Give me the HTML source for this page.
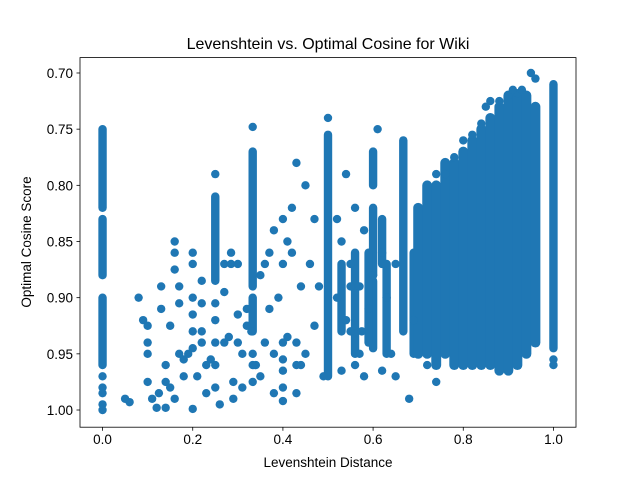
<!DOCTYPE html>
<html><head><meta charset="utf-8"><style>
body{margin:0;background:#fff;font-family:"Liberation Sans","DejaVu Sans",sans-serif;}
svg text{font-family:"Liberation Sans","DejaVu Sans",sans-serif;fill:#000;}
</style></head><body>
<svg id="chart" width="640" height="480" viewBox="0 0 640 480">
<rect width="640" height="480" fill="#fff"/>
<g id="marks"></g>
<rect x="80" y="57.6" width="496" height="369.6" fill="none" stroke="#000" stroke-width="0.8"/>
<g id="axes"></g>
<text x="328" y="49" text-anchor="middle" font-size="16">Levenshtein vs. Optimal Cosine for Wiki</text>
<text x="328" y="467" text-anchor="middle" font-size="13.5">Levenshtein Distance</text>
<text x="31" y="242" text-anchor="middle" font-size="13.5" transform="rotate(-90 31 242)">Optimal Cosine Score</text>
</svg>
<script>
const xTicks=[0.0,0.2,0.4,0.6,0.8,1.0];
const xTickLabels=["0.0","0.2","0.4","0.6","0.8","1.0"];
const yTicks=[0.70,0.75,0.80,0.85,0.90,0.95,1.00];
const yTickLabels=["0.70","0.75","0.80","0.85","0.90","0.95","1.00"];
// dense columns: x, top y, bottom y
const colX=[0,0,0,0.25,0.333,0.333,0.5,0.6,0.6,0.6,0.667,1.0,0.53,0.56,0.59,0.63,0.69,0.62,0.70,0.72,0.74,0.76,0.78,0.80,0.82,0.84,0.86,0.88,0.90,0.92,0.94,0.96];
const colTop=[0.75,0.83,0.90,0.81,0.77,0.90,0.755,0.77,0.82,0.885,0.76,0.71,0.87,0.86,0.86,0.87,0.86,0.83,0.82,0.80,0.80,0.78,0.78,0.77,0.76,0.75,0.74,0.73,0.72,0.72,0.72,0.73];
const colBottom=[0.82,0.88,0.96,0.885,0.89,0.93,0.97,0.80,0.88,0.945,0.93,0.945,0.93,0.95,0.94,0.95,0.95,0.87,0.95,0.95,0.96,0.95,0.96,0.96,0.96,0.96,0.96,0.965,0.965,0.96,0.95,0.94];
// individual points
const ptX=[0,0,0,0,0,1.0,1.0,0.5,0.05,0.06,0.08,0.09,0.1,0.1,0.1,0.1,0.11,0.125,0.13,0.13,0.14,0.14,0.15,0.15,0.16,0.16,0.16,0.17,0.17,0.17,0.18,0.19,0.2,0.2,0.2,0.2,0.2,0.2,0.21,0.22,0.22,0.22,0.23,0.23,0.24,0.25,0.25,0.25,0.25,0.25,0.25,0.27,0.27,0.27,0.28,0.285,0.285,0.29,0.3,0.3,0.31,0.32,0.32,0.333,0.35,0.36,0.37,0.37,0.38,0.38,0.39,0.4,0.4,0.4,0.41,0.41,0.42,0.42,0.43,0.43,0.44,0.44,0.45,0.45,0.46,0.47,0.47,0.48,0.49,0.52,0.53,0.54,0.55,0.55,0.56,0.57,0.57,0.58,0.59,0.61,0.62,0.63,0.64,0.65,0.68,0.69,0.72,0.74,0.35,0.30,0.22,0.18,0.2,0.26,0.12,0.14,0.16,0.38,0.4,0.31,0.33,0.34,0.36,0.29,0.56,0.58,0.53,0.62,0.65,0.52,0.54,0.55,0.575,0.6,0.333,0.333,0.333,0.4,0.4,0.4,0.43,0.43,0.95,0.96,0.90,0.86,0.92,0.80,0.84,0.76,0.82,0.88,0.93,0.78,0.74,0.85,0.91];
const ptY=[0.97,0.98,0.985,0.995,1.0,0.955,0.96,0.74,0.99,0.993,0.90,0.92,0.925,0.94,0.95,0.975,0.99,0.985,0.89,0.91,0.96,0.975,0.98,0.925,0.85,0.86,0.875,0.89,0.905,0.95,0.955,0.95,0.87,0.90,0.915,0.93,0.945,0.86,0.97,0.885,0.905,0.94,0.96,0.985,0.955,0.79,0.905,0.92,0.94,0.96,0.98,0.87,0.895,0.94,0.935,0.86,0.87,0.975,0.915,0.94,0.95,0.91,0.925,0.748,0.97,0.87,0.86,0.91,0.95,0.84,0.90,0.83,0.87,0.98,0.85,0.935,0.82,0.86,0.78,0.94,0.89,0.96,0.80,0.95,0.87,0.83,0.925,0.89,0.97,0.83,0.85,0.79,0.87,0.93,0.82,0.89,0.95,0.84,0.91,0.75,0.86,0.90,0.95,0.87,0.99,0.92,0.96,0.975,0.88,0.87,0.93,0.97,0.999,0.995,0.998,0.998,0.99,0.985,0.992,0.98,0.93,0.96,0.94,0.99,0.96,0.97,0.965,0.965,0.97,0.90,0.92,0.89,0.93,0.88,0.95,0.96,0.975,0.94,0.955,0.965,0.96,0.985,0.70,0.705,0.72,0.725,0.718,0.76,0.745,0.79,0.755,0.725,0.715,0.775,0.79,0.73,0.715];

const L=80,R=576,T=57.6,B=427.2;
const xMin=-0.05,xMax=1.05,yTop=0.6863,yBot=1.0153;
const sx=v=>L+(v-xMin)/(xMax-xMin)*(R-L);
const sy=v=>T+(v-yTop)/(yBot-yTop)*(B-T);
const NS="http://www.w3.org/2000/svg";
const marks=document.getElementById('marks');
const C="#1f77b4",RAD=4.2;
for(let i=0;i<colX.length;i++){
  const ln=document.createElementNS(NS,'line');
  ln.setAttribute('x1',sx(colX[i]));ln.setAttribute('x2',sx(colX[i]));
  ln.setAttribute('y1',sy(colTop[i]));ln.setAttribute('y2',sy(colBottom[i]));
  ln.setAttribute('stroke',C);ln.setAttribute('stroke-width',RAD*2+(colX[i]>=0.7&&colX[i]<0.99?1.5:0));ln.setAttribute('stroke-linecap','round');
  
  
  marks.appendChild(ln);
}
for(let i=0;i<ptX.length;i++){
  const c=document.createElementNS(NS,'circle');
  c.setAttribute('cx',sx(ptX[i]));c.setAttribute('cy',sy(ptY[i]));c.setAttribute('r',RAD);c.setAttribute('fill',C);
  
  
  marks.appendChild(c);
}
const axes=document.getElementById('axes');
xTicks.forEach((v,i)=>{
  const x=sx(v);
  const t=document.createElementNS(NS,'line');
  t.setAttribute('x1',x);t.setAttribute('x2',x);t.setAttribute('y1',B);t.setAttribute('y2',B+3.5);t.setAttribute('stroke','#000');t.setAttribute('stroke-width','0.8');
  
  
  axes.appendChild(t);
  const tx=document.createElementNS(NS,'text');
  tx.setAttribute('x',x);tx.setAttribute('y',B+17);tx.setAttribute('text-anchor','middle');tx.setAttribute('font-size','13.5');
  tx.textContent=xTickLabels[i];
  
  
  axes.appendChild(tx);
});
yTicks.forEach((v,i)=>{
  const y=sy(v);
  const t=document.createElementNS(NS,'line');
  t.setAttribute('x1',L-3.5);t.setAttribute('x2',L);t.setAttribute('y1',y);t.setAttribute('y2',y);t.setAttribute('stroke','#000');t.setAttribute('stroke-width','0.8');
  
  
  axes.appendChild(t);
  const tx=document.createElementNS(NS,'text');
  tx.setAttribute('x',L-7);tx.setAttribute('y',y+5);tx.setAttribute('text-anchor','end');tx.setAttribute('font-size','13.5');
  tx.textContent=yTickLabels[i];
  
  
  axes.appendChild(tx);
});
</script>
</body></html>
